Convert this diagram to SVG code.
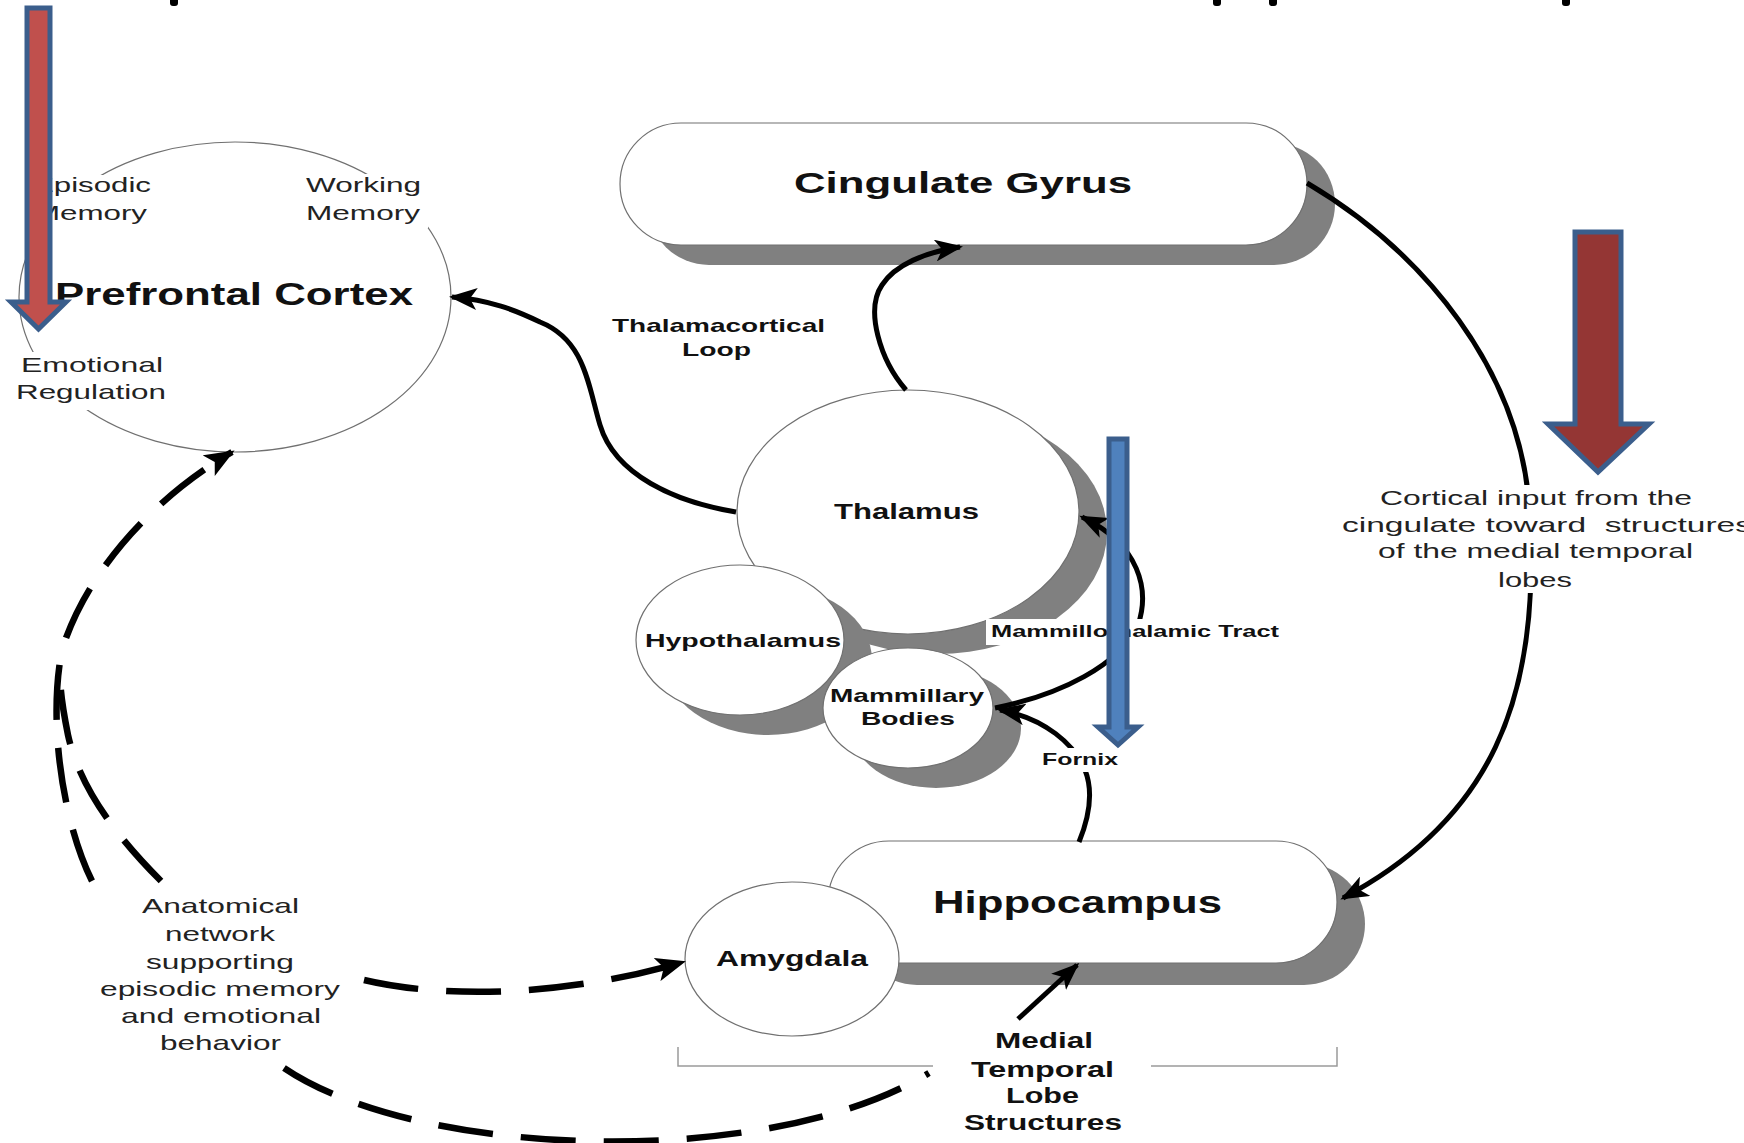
<svg xmlns="http://www.w3.org/2000/svg" width="1744" height="1143" viewBox="0 0 1744 1143">
<style>
.b{font-family:"Liberation Sans",Arial,sans-serif;font-weight:bold;fill:#111}
.r{font-family:"Liberation Sans",Arial,sans-serif;fill:#222}
.node{fill:#fff;stroke:#707070;stroke-width:1.2}
.shadow{fill:#808080;stroke:none}
.conn{fill:none;stroke:#000;stroke-width:5}
.dash{fill:none;stroke:#000;stroke-width:6.5;stroke-dasharray:55 28}
.bg{fill:#fff;stroke:none}
.blk{stroke:#3B5E8C;stroke-width:5;stroke-linejoin:miter}
</style>
<defs>
<marker id="ah" viewBox="0 0 28 22" refX="25" refY="11" markerWidth="28" markerHeight="22" markerUnits="userSpaceOnUse" orient="auto"><path d="M0,0 L28,11 L0,22 L7,11 z" fill="#000"/></marker>
<marker id="ahd" viewBox="0 0 30 24" refX="27" refY="12" markerWidth="30" markerHeight="24" markerUnits="userSpaceOnUse" orient="auto"><path d="M0,0 L30,12 L0,24 L7,12 z" fill="#000"/></marker>
</defs>
<rect width="1744" height="1143" fill="#fff"/>

<g id="title-fragments" fill="#000">
<rect x="170" y="-4" width="8" height="10" rx="3"/>
<rect x="1213" y="-4" width="8" height="10" rx="3"/>
<rect x="1269" y="-4" width="8" height="10" rx="3"/>
<rect x="1562" y="-4" width="8" height="10" rx="3"/>
</g>

<g id="prefrontal-cortex">
<ellipse class="node" cx="235" cy="297" rx="216" ry="155"/>
<rect class="bg" x="26" y="175" width="134" height="53"/>
<rect class="bg" x="302" y="174" width="126" height="54"/>
<rect class="bg" x="10" y="352" width="162" height="58"/>
<text class="r" x="33" y="192" font-size="21" textLength="118" lengthAdjust="spacingAndGlyphs">Episodic</text>
<text class="r" x="34" y="220" font-size="21" textLength="113" lengthAdjust="spacingAndGlyphs">Memory</text>
<text class="r" x="306" y="192" font-size="21" textLength="115" lengthAdjust="spacingAndGlyphs">Working</text>
<text class="r" x="306" y="220" font-size="21" textLength="114" lengthAdjust="spacingAndGlyphs">Memory</text>
<text class="b" x="55" y="305" font-size="32" textLength="358" lengthAdjust="spacingAndGlyphs">Prefrontal Cortex</text>
<text class="r" x="21" y="372" font-size="21" textLength="142" lengthAdjust="spacingAndGlyphs">Emotional</text>
<text class="r" x="16" y="399" font-size="21" textLength="150" lengthAdjust="spacingAndGlyphs">Regulation</text>
</g>

<g id="cingulate-gyrus">
<rect class="shadow" x="648" y="143" width="687" height="122" rx="61"/>
<rect class="node" x="620" y="123" width="687" height="122" rx="61"/>
<text class="b" x="794" y="193" font-size="30" textLength="338" lengthAdjust="spacingAndGlyphs">Cingulate Gyrus</text>
</g>

<g id="thalamus">
<ellipse class="shadow" cx="936" cy="532" rx="171" ry="122"/>
<ellipse class="node" cx="908" cy="512" rx="171" ry="122"/>
<text class="b" x="834" y="519" font-size="22" textLength="145" lengthAdjust="spacingAndGlyphs">Thalamus</text>
</g>

<g id="hypothalamus">
<ellipse class="shadow" cx="768" cy="660" rx="104" ry="75"/>
<ellipse class="node" cx="740" cy="640" rx="104" ry="75"/>
<text class="b" x="645" y="647" font-size="19" textLength="196" lengthAdjust="spacingAndGlyphs">Hypothalamus</text>
</g>

<g id="mammillary-bodies">
<ellipse class="shadow" cx="936" cy="728" rx="85" ry="60"/>
<ellipse class="node" cx="908" cy="708" rx="85" ry="60"/>
<text class="b" x="830" y="702" font-size="19" textLength="154" lengthAdjust="spacingAndGlyphs">Mammillary</text>
<text class="b" x="861" y="725" font-size="19" textLength="94" lengthAdjust="spacingAndGlyphs">Bodies</text>
</g>

<g id="hippocampus">
<rect class="shadow" x="856" y="863" width="509" height="122" rx="61"/>
<rect class="node" x="828" y="841" width="509" height="122" rx="61"/>
<text class="b" x="933" y="913" font-size="32" textLength="289" lengthAdjust="spacingAndGlyphs">Hippocampus</text>
</g>

<g id="amygdala">
<ellipse class="node" cx="792" cy="959" rx="107" ry="77"/>
<text class="b" x="716" y="966" font-size="22" textLength="152" lengthAdjust="spacingAndGlyphs">Amygdala</text>
</g>

<g id="connectors">
<path class="conn" d="M736,512 C675,502 615,475 600,425 C588,385 585,340 540,322 C515,310 490,300 452,297" marker-end="url(#ah)"/>
<path class="conn" d="M906,390 C880,360 865,310 882,285 C895,265 925,252 960,247" marker-end="url(#ah)"/>
<path class="conn" d="M1307,183 C1420,250 1525,370 1530,520 C1540,700 1490,820 1343,898" marker-end="url(#ah)"/>
<path class="conn" d="M995,708 C1060,695 1120,665 1138,625 C1150,590 1140,545 1082,517" marker-end="url(#ah)"/>
<path class="conn" d="M1079,842 C1090,815 1093,790 1085,770 C1075,745 1045,718 1000,710" marker-end="url(#ah)"/>
<path class="conn" d="M1018,1019 L1077,965" marker-end="url(#ah)"/>
<path class="dash" d="M92,881 C62,820 48,720 62,650 C85,575 150,500 232,452" marker-end="url(#ahd)"/>
<path class="dash" d="M161,881 C120,840 80,790 68,735 C62,705 60,690 60,668"/>
<path class="dash" d="M364,980 C440,998 560,998 683,962" marker-end="url(#ahd)"/>
<path class="dash" d="M284,1068 C420,1160 770,1170 929,1073"/>
</g>

<g id="label-thalamacortical">
<text class="b" x="612" y="332" font-size="19" textLength="213" lengthAdjust="spacingAndGlyphs">Thalamacortical</text>
<text class="b" x="682" y="356" font-size="19" textLength="69" lengthAdjust="spacingAndGlyphs">Loop</text>
</g>

<g id="label-mammillothalamic">
<rect class="bg" x="986" y="619" width="298" height="26"/>
<text class="b" x="991" y="637" font-size="17" textLength="288" lengthAdjust="spacingAndGlyphs">Mammillothalamic Tract</text>
</g>

<g id="label-fornix">
<rect class="bg" x="1038" y="748" width="84" height="24"/>
<text class="b" x="1042" y="765" font-size="17" textLength="76" lengthAdjust="spacingAndGlyphs">Fornix</text>
</g>

<g id="label-cortical-input">
<rect class="bg" x="1338" y="485" width="406" height="108"/>
<text class="r" x="1380" y="505" font-size="21" textLength="312" lengthAdjust="spacingAndGlyphs">Cortical input from the</text>
<text class="r" x="1342" y="532" font-size="21" textLength="410" lengthAdjust="spacingAndGlyphs" xml:space="preserve">cingulate toward  structures</text>
<text class="r" x="1378" y="558" font-size="21" textLength="315" lengthAdjust="spacingAndGlyphs">of the medial temporal</text>
<text class="r" x="1498" y="587" font-size="21" textLength="74" lengthAdjust="spacingAndGlyphs">lobes</text>
</g>

<g id="label-anatomical-network">
<text class="r" x="142" y="913" font-size="21" textLength="157" lengthAdjust="spacingAndGlyphs">Anatomical</text>
<text class="r" x="165" y="941" font-size="21" textLength="110" lengthAdjust="spacingAndGlyphs">network</text>
<text class="r" x="146" y="969" font-size="21" textLength="148" lengthAdjust="spacingAndGlyphs">supporting</text>
<text class="r" x="100" y="996" font-size="21" textLength="240" lengthAdjust="spacingAndGlyphs">episodic memory</text>
<text class="r" x="121" y="1023" font-size="21" textLength="200" lengthAdjust="spacingAndGlyphs">and emotional</text>
<text class="r" x="160" y="1050" font-size="21" textLength="121" lengthAdjust="spacingAndGlyphs">behavior</text>
</g>

<g id="label-medial-temporal">
<path d="M678,1047 L678,1066 L933,1066 M1151,1066 L1337,1066 L1337,1047" fill="none" stroke="#9a9a9a" stroke-width="1.5"/>
<text class="b" x="995" y="1048" font-size="22" textLength="98" lengthAdjust="spacingAndGlyphs">Medial</text>
<text class="b" x="971" y="1077" font-size="22" textLength="143" lengthAdjust="spacingAndGlyphs">Temporal</text>
<text class="b" x="1006" y="1103" font-size="22" textLength="73" lengthAdjust="spacingAndGlyphs">Lobe</text>
<text class="b" x="964" y="1130" font-size="22" textLength="158" lengthAdjust="spacingAndGlyphs">Structures</text>
</g>

<g id="block-arrows">
<path class="blk" fill="#C0504D" d="M27,8 L50,8 L50,302 L66,302 L38.5,329 L11,302 L27,302 Z"/>
<path class="blk" fill="#943634" d="M1575,232 L1621,232 L1621,424 L1649,424 L1598,472 L1548,424 L1575,424 Z"/>
<path class="blk" fill="#4F81BD" stroke-width="4" d="M1109,439 L1127,439 L1127,727 L1138,727 L1118,745 L1098,727 L1109,727 Z"/>
</g>
</svg>
